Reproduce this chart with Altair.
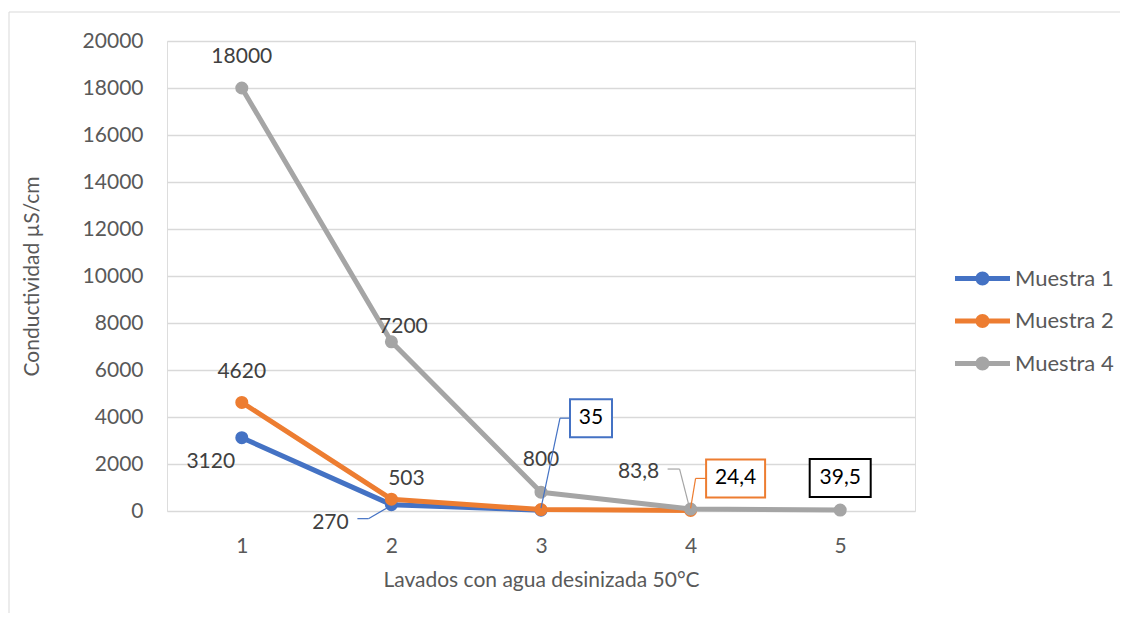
import altair as alt
import pandas as pd

# ---- data ----
lavados = [1, 2, 3, 4, 5]
series_names = ["Muestra 1", "Muestra 2", "Muestra 4"]
muestra1 = [3120, 270, 35]
muestra2 = [4620, 503, 60, 24.4]
muestra4 = [18000, 7200, 800, 83.8, 39.5]
series_values = [muestra1, muestra2, muestra4]
colors = ["#4472C4", "#ED7D31", "#A5A5A5"]
y_ticks = list(range(0, 20001, 2000))

FONT = "Lato"
FS = 21
GREY_TXT = "#595959"
LBL_TXT = "#404040"


def fmt(v):
    if float(v).is_integer():
        return str(int(v))
    return str(v).replace(".", ",")


cscale = alt.Scale(domain=series_names, range=colors)
xenc = alt.X("lavado:Q", scale=alt.Scale(domain=[0.5, 5.5], nice=False, zero=False),
             axis=alt.Axis(values=lavados, grid=False, domain=False, ticks=False,
                           labelPadding=24, labelFont=FONT, labelFontSize=FS,
                           labelColor=GREY_TXT, title="Lavados con agua desinizada 50°C",
                           titleFont=FONT, titleFontSize=FS, titleFontWeight="normal",
                           titleColor=GREY_TXT, titlePadding=13, format="d"))
yenc = alt.Y("valor:Q", scale=alt.Scale(domain=[0, 20000], nice=False),
             axis=alt.Axis(values=y_ticks, grid=True, gridColor="#D9D9D9", gridWidth=1.3,
                           domain=False, ticks=False, labelPadding=24, labelFont=FONT,
                           labelFontSize=FS, labelColor=GREY_TXT, format="d",
                           title="Conductividad µS/cm", titleFont=FONT, titleFontSize=FS,
                           titleFontWeight="normal", titleColor=GREY_TXT, titlePadding=40))

legend_path = ("M-1,-0.09H1V0.09H-1Z "
               "M0,-0.255A0.255,0.255 0 1,1 0,0.255A0.255,0.255 0 1,1 0,-0.255Z")
legend = alt.Legend(title=None, orient="none", legendX=788, legendY=210,
                    symbolType=legend_path, symbolSize=3025, symbolStrokeWidth=0,
                    symbolOpacity=1, labelFont=FONT, labelFontSize=22,
                    labelColor=GREY_TXT, labelOffset=5, rowPadding=3.5)

layers = []

# frame around the chart
frame = alt.Chart(pd.DataFrame({"a": [0]})).mark_rect(
    fill=None, stroke="#D9D9D9", strokeWidth=1, clip=False
).encode(x=alt.value(-158), x2=alt.value(980), y=alt.value(-29), y2=alt.value(600))
layers.append(frame)

for name, vals in zip(series_names, series_values):
    df = pd.DataFrame({"lavado": lavados[:len(vals)], "valor": vals, "serie": name})
    line = alt.Chart(df).mark_line(strokeWidth=5, strokeJoin="round").encode(
        x=xenc, y=yenc, color=alt.Color("serie:N", scale=cscale, legend=legend))
    pts = alt.Chart(df).mark_point(filled=True, size=170, opacity=1).encode(
        x=xenc, y=yenc, color=alt.Color("serie:N", scale=cscale, legend=legend))
    layers += [line, pts]

# ---- data labels (offsets are styling) ----
plain_labels = [
    # serie index, lavado index, dx, dy
    (2, 0, 0, -31), (2, 1, 12, -15), (2, 2, 0, -32), (2, 3, -52, -37),
    (1, 0, 0, -30), (1, 1, 15, -20),
    (0, 0, -31, 24), (0, 1, -61, 18),
]
for si, li, dx, dy in plain_labels:
    v = series_values[si][li]
    d = pd.DataFrame({"lavado": [lavados[li]], "valor": [v], "t": [fmt(v)]})
    layers.append(alt.Chart(d).mark_text(dx=dx, dy=dy, font=FONT, fontSize=FS,
                                         color=LBL_TXT, baseline="middle", align="center")
                  .encode(x=xenc, y=yenc, text="t:N"))

boxed = [
    # serie index, lavado index, dx, dy, box w, box h, border colour
    (0, 2, 50, -92, 42, 38, colors[0]),
    (1, 3, 45, -32, 59, 38, colors[1]),
    (2, 4, 0, -32, 61, 38, "#000000"),
]
for si, li, dx, dy, w, h, bc in boxed:
    v = series_values[si][li]
    d = pd.DataFrame({"lavado": [lavados[li]], "valor": [v], "t": [fmt(v)]})
    hh = h / w
    shape = f"M-1,-{hh:.4f}H1V{hh:.4f}H-1Z"
    layers.append(alt.Chart(d).mark_point(shape=shape, size=w * w, filled=True, fill="white",
                                          stroke=bc, strokeWidth=2, opacity=1,
                                          xOffset=dx, yOffset=dy)
                  .encode(x=xenc, y=yenc))
    layers.append(alt.Chart(d).mark_text(dx=dx, dy=dy, font=FONT, fontSize=FS,
                                         color="#000000", baseline="middle", align="center")
                  .encode(x=xenc, y=yenc, text="t:N"))

# leader lines: (serie, lavado, [(x,y) offsets from point], colour)
leaders = [
    (0, 1, [(-4, 3), (-23, 14), (-34, 14)], colors[0]),
    (0, 2, [(0, -2), (19, -92), (29, -92)], colors[0]),
    (2, 3, [(-1, -1), (-11, -40), (-23, -40)], colors[2]),
    (1, 3, [(0, -2), (5, -32), (16, -32)], colors[1]),
]
for si, li, pts_off, col in leaders:
    v = series_values[si][li]
    d = pd.DataFrame({"lavado": [lavados[li]], "valor": [v]})
    for (ax, ay), (bx, by) in zip(pts_off[:-1], pts_off[1:]):
        layers.append(alt.Chart(d).mark_rule(color=col, strokeWidth=1.2,
                                             xOffset=ax, yOffset=ay,
                                             x2Offset=bx, y2Offset=by)
                      .encode(x=xenc, y=yenc, x2="lavado:Q", y2="valor:Q"))

chart = alt.layer(*layers).properties(
    width=748, height=470,
    autosize=alt.AutoSizeParams(type="none"),
    padding={"left": 159, "top": 33, "right": 205, "bottom": 102},
).configure_view(stroke=None).configure(background="white")

chart.save("out.html", embed_options={"renderer": "svg", "actions": False})
